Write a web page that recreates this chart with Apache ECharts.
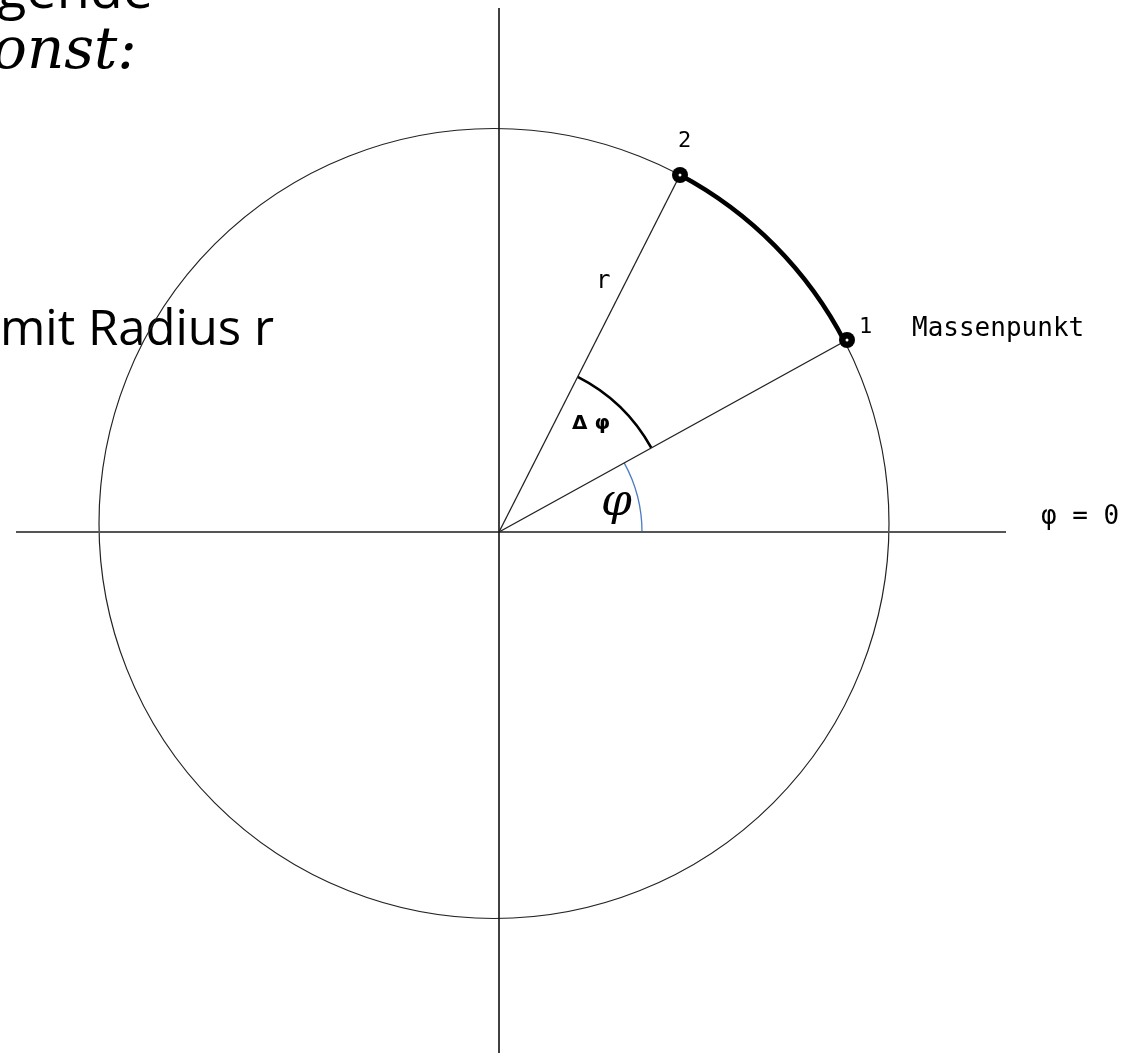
<!DOCTYPE html>
<html><head><meta charset="utf-8">
<script src="https://cdn.jsdelivr.net/npm/echarts@6/dist/echarts.min.js"></script>
<style>html,body{margin:0;padding:0;background:#fff}#c{width:1136px;height:1053px}</style>
</head><body><div id="c"></div>
<script>
// Geometry in px-like units, origin at axis crossing, y up
const axisH = [[-483, 0], [507, 0]];
const axisV = [[0, 524], [0, -521]];
const circle = [[-5, 8.5, 395]];                 // cx, cy, r
const point1 = [348, 192];
const point2 = [181, 357];
const points = [point1, point2];
const radial1 = [[0, 0], point1];
const radial2 = [[0, 0], point2];
const arcMotion = [[-5, 8.5, 395, 27.4, 61.9]];  // cx, cy, r, startDeg, endDeg
const arcDelta = [[0, 0, 174, 28.9, 63.1]];
const arcPhi = [[0, 0, 143, 0, 28.9]];

const chart = echarts.init(document.getElementById('c'), null, {renderer: 'canvas'});

function circleItem(stroke, lw) {
  return function (params, api) {
    const c = api.coord([api.value(0), api.value(1)]);
    const s = api.size([api.value(2), api.value(2)]);
    return {type: 'circle', shape: {cx: c[0], cy: c[1], r: s[0]},
      style: {fill: 'none', stroke: stroke, lineWidth: lw}};
  };
}
function arcItem(stroke, lw) {
  return function (params, api) {
    const c = api.coord([api.value(0), api.value(1)]);
    const s = api.size([api.value(2), api.value(2)]);
    const a1 = api.value(3) * Math.PI / 180, a2 = api.value(4) * Math.PI / 180;
    return {type: 'arc', shape: {cx: c[0], cy: c[1], r: s[0], startAngle: -a2, endAngle: -a1, clockwise: true},
      style: {fill: 'none', stroke: stroke, lineWidth: lw}};
  };
}
function seg(data, color, w) {
  return {type: 'line', data: data, symbol: 'none', silent: true,
    lineStyle: {color: color, width: w}, animation: false};
}

const cad = '"DejaVu Sans Mono", monospace';
const body = '"Open Sans", "Noto Sans", sans-serif';

chart.setOption({
  animation: false,
  grid: {left: 0, top: 0, right: 0, bottom: 0},
  xAxis: {type: 'value', min: -499, max: 637, show: false},
  yAxis: {type: 'value', min: -521, max: 532, show: false},
  series: [
    seg(axisH, '#555', 2),
    seg(axisV, '#111', 1.6),
    {type: 'custom', renderItem: circleItem('#222', 1.2), data: circle, silent: true},
    seg(radial1, '#222', 1.3),
    seg(radial2, '#222', 1.3),
    {type: 'custom', renderItem: arcItem('#000', 4.5), data: arcMotion, silent: true},
    {type: 'custom', renderItem: arcItem('#000', 2.6), data: arcDelta, silent: true},
    {type: 'custom', renderItem: arcItem('#4a7cc4', 1.3), data: arcPhi, silent: true},
    {type: 'scatter', data: points, symbol: 'circle', symbolSize: 16,
      itemStyle: {color: '#000', opacity: 1}, silent: true, z: 5},
    {type: 'scatter', data: points, symbol: 'circle', symbolSize: 3,
      itemStyle: {color: '#fff', opacity: 1}, silent: true, z: 6}
  ],
  graphic: [
    {type: 'text', left: -3, top: -34, style: {text: 'gende', font: '54px ' + body, fill: '#000'}},
    {type: 'text', left: -8, top: 24, style: {text: 'onst:', font: 'italic 58px "DejaVu Serif", serif', fill: '#000'}},
    {type: 'text', left: 0, top: 307, style: {text: 'mit Radius r', font: '49px ' + body, fill: '#000'}},
    {type: 'text', left: 678, top: 130, style: {text: '2', font: '22px ' + cad, fill: '#000'}},
    {type: 'text', left: 859, top: 316, style: {text: '1', font: '22px ' + cad, fill: '#000'}},
    {type: 'text', left: 912, top: 316, style: {text: 'Massenpunkt', font: '26px ' + cad, fill: '#000'}},
    {type: 'text', left: 596, top: 270, style: {text: 'r', font: '24px ' + cad, fill: '#000'}},
    {type: 'text', left: 572, top: 414, style: {text: 'Δ φ', font: 'bold 20px "DejaVu Sans", sans-serif', fill: '#000'}},
    {type: 'text', left: 601, top: 482, style: {text: 'φ', font: 'italic 44px "DejaVu Serif", serif', fill: '#000'}},
    {type: 'text', left: 1041, top: 504, style: {text: 'φ = 0', font: '26px ' + cad, fill: '#000'}}
  ]
});
</script></body></html>
